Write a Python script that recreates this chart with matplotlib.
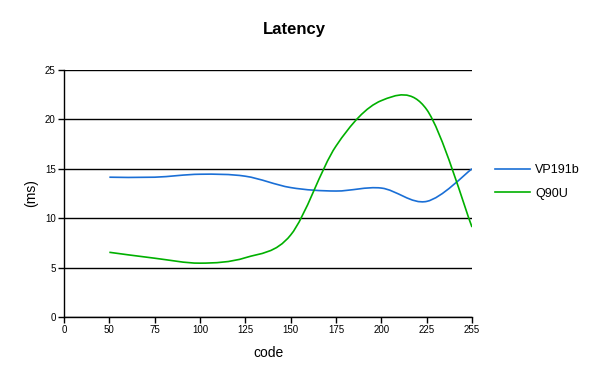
import matplotlib
matplotlib.use("Agg")
import matplotlib.pyplot as plt
from matplotlib.path import Path
from matplotlib.patches import PathPatch
from matplotlib.lines import Line2D

codes_labels = ["0", "50", "75", "100", "125", "150", "175", "200", "225", "255"]
vp191b = [14.15, 14.15, 14.45, 14.25, 13.1, 12.75, 13.05, 11.7, 15.0]
q90u = [6.55, 5.95, 5.45, 6.0, 8.3, 17.3, 21.9, 21.0, 9.1]
series_names = ["VP191b", "Q90U"]
series_colors = ["#1a6fd6", "#00b000"]

plt.rcParams['font.family'] = ['Liberation Sans', 'DejaVu Sans']

fig = plt.figure(figsize=(6.0, 3.77), dpi=100)
ax = fig.add_axes([64/600, 60/377, 408/600, 247/377])


def smooth_path(xs, ys):
    # Excel-style smoothed line: cubic Bezier through points (Catmull-Rom control points)
    n = len(xs)
    verts = [(xs[0], ys[0])]
    codes = [Path.MOVETO]
    for i in range(n - 1):
        x0, y0 = (xs[i - 1], ys[i - 1]) if i > 0 else (xs[i], ys[i])
        x1, y1 = xs[i], ys[i]
        x2, y2 = xs[i + 1], ys[i + 1]
        x3, y3 = (xs[i + 2], ys[i + 2]) if i + 2 < n else (xs[i + 1], ys[i + 1])
        c1 = (x1 + (x2 - x0) / 6, y1 + (y2 - y0) / 6)
        c2 = (x2 - (x3 - x1) / 6, y2 - (y3 - y1) / 6)
        verts += [c1, c2, (x2, y2)]
        codes += [Path.CURVE4] * 3
    return Path(verts, codes)


xpos = list(range(1, len(codes_labels)))
handles = []
for name, vals, col in zip(series_names, [vp191b, q90u], series_colors):
    p = smooth_path(xpos, vals)
    ax.add_patch(PathPatch(p, facecolor='none', edgecolor=col, lw=1.2, zorder=3))
    handles.append(Line2D([], [], color=col, lw=1.2, label=name))

ax.set_xlim(0, len(codes_labels) - 1)
ax.set_ylim(0, 25)
ax.set_xticks(range(len(codes_labels)))
ax.set_xticklabels(codes_labels)
ax.set_yticks(range(0, 26, 5))
ax.tick_params(axis='both', direction='out', length=4, width=1, labelsize=7, pad=2, colors='black')
ax.yaxis.grid(True, color='black', lw=1)
ax.set_axisbelow(True)
for s in ['top', 'right']:
    ax.spines[s].set_visible(False)
for s in ['left', 'bottom']:
    ax.spines[s].set_linewidth(1)
    ax.spines[s].set_zorder(4)

ax.set_xlabel("code", fontsize=10, labelpad=8)
ax.set_ylabel("(ms)", fontsize=10, labelpad=5)
fig.text(0.49, 0.923, "Latency", ha='center', va='center', fontsize=12, fontweight='bold')

fig.legend(handles=handles, loc='center left', bbox_to_anchor=(0.815, 0.517),
           frameon=False, fontsize=9, handlelength=2.8, handletextpad=0.4,
           labelspacing=0.9, borderpad=0)

fig.savefig("out.png", dpi=100)
